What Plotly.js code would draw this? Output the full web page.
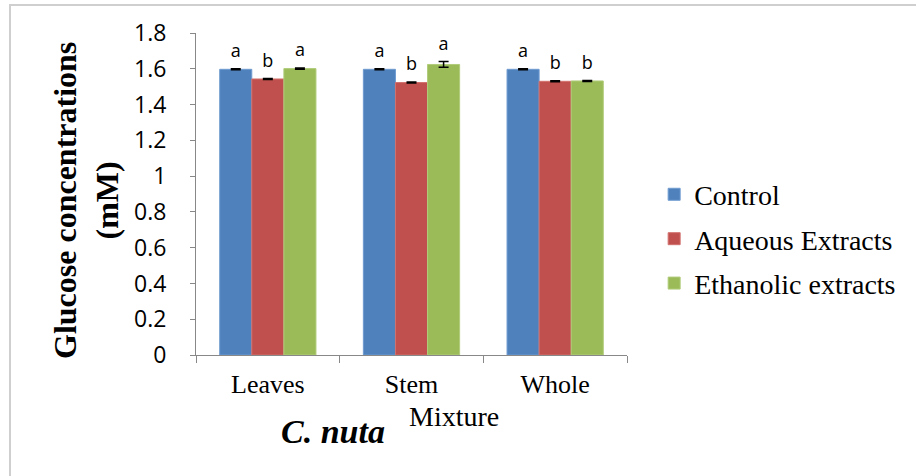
<!DOCTYPE html>
<html>
<head>
<meta charset="utf-8">
<script src="https://cdn.plot.ly/plotly-3.0.1.min.js"></script>
<style>
  html, body { margin: 0; padding: 0; background: #fff; }
  #wrap { position: relative; width: 916px; height: 476px; overflow: hidden; }
  #chart { position: absolute; left: 0; top: 0; width: 916px; height: 476px; }
  #frame { position: absolute; left: 9px; top: 4px; right: -4px; bottom: -4px;
           border-left: 2px solid #cfcfcf; border-top: 2px solid #cfcfcf; pointer-events: none; }
</style>
</head>
<body>
<div id="wrap"><div id="chart"></div><div id="frame"></div></div>
<script>
// ---- data ----
const categories = ["Leaves", "Stem", "Whole"];
const seriesNames = ["Control", "Aqueous Extracts", "Ethanolic extracts"];
const control   = [1.597, 1.597, 1.597];
const aqueous   = [1.543, 1.523, 1.530];
const ethanolic = [1.601, 1.624, 1.532];
const controlErr   = [0.003, 0.003, 0.003];
const aqueousErr   = [0.003, 0.003, 0.003];
const ethanolicErr = [0.003, 0.016, 0.003];
const controlLetters   = ["a", "a", "a"];
const aqueousLetters   = ["b", "b", "b"];
const ethanolicLetters = ["a", "a", "b"];
const yTicks = [0, 0.2, 0.4, 0.6, 0.8, 1, 1.2, 1.4, 1.6, 1.8];
const yTickLabels = ["0", "0.2", "0.4", "0.6", "0.8", "1", "1.2", "1.4", "1.6", "1.8"];
const yTitle = "Glucose concentrations<br>(mM)";

const colors = ["#4F81BD", "#C0504D", "#9BBB59"];
const edge = ["#6f9bd1", "#d2716e", "#b0cc7a"];
const values = [control, aqueous, ethanolic];
const errs = [controlErr, aqueousErr, ethanolicErr];
const letters = [controlLetters, aqueousLetters, ethanolicLetters];

const traces = [];
values.forEach((v, i) => {
  traces.push({
    type: "bar", x: categories, y: v, name: seriesNames[i],
    offsetgroup: "g" + i, legendgroup: "g" + i,
    marker: { color: colors[i], line: { color: edge[i], width: 1 } },
    error_y: { type: "data", array: errs[i], visible: true, color: "#000", thickness: 1.5, width: 5 },
    hoverinfo: "skip"
  });
});
values.forEach((v, i) => {
  traces.push({
    type: "scatter", mode: "markers+text", x: categories,
    y: v.map((val, k) => val + errs[i][k]),
    marker: { size: 10, color: "rgba(0,0,0,0)" },
    text: letters[i], textposition: "top center",
    textfont: { family: "Open Sans, sans-serif", size: 18, color: "#000" },
    offsetgroup: "g" + i, showlegend: false, hoverinfo: "skip", cliponaxis: false
  });
});

const layout = {
  width: 916, height: 476,
  margin: { l: 196, r: 289, t: 33, b: 121 },
  paper_bgcolor: "#fff", plot_bgcolor: "#fff",
  barmode: "group", bargap: 0.33, bargroupgap: 0,
  scattermode: "group", scattergap: 0.33,
  showlegend: true,
  legend: {
    x: 1.063, xanchor: "left", y: 0.36, yanchor: "middle",
    font: { family: "Liberation Serif, serif", size: 28, color: "#000" },
    tracegroupgap: 5, bgcolor: "rgba(0,0,0,0)"
  },
  xaxis: {
    type: "category", tickson: "boundaries", ticks: "outside", ticklen: 7,
    tickcolor: "#888", showline: true, linecolor: "#888", linewidth: 1,
    showgrid: false, zeroline: false, ticklabelstandoff: 6,
    tickfont: { family: "Liberation Serif, serif", size: 26, color: "#000" },
    automargin: false
  },
  yaxis: {
    range: [0, 1.8], tickvals: yTicks, ticktext: yTickLabels,
    ticks: "outside", ticklen: 5, tickcolor: "#888",
    showline: true, linecolor: "#888", linewidth: 1,
    showgrid: false, zeroline: false,
    ticklabelstandoff: 19,
    tickfont: { family: "Open Sans, sans-serif", size: 23, color: "#000" },
    automargin: false
  },
  annotations: [
    { text: yTitle, xref: "paper", yref: "paper", x: (86 - 196) / 431, y: (355 - 200) / 322,
      xanchor: "center", yanchor: "middle", textangle: -90, showarrow: false,
      font: { family: "Liberation Serif, serif", size: 32, color: "#000", weight: "bold" } },
    { text: "Mixture", xref: "paper", yref: "paper", x: (454 - 196) / 431, y: -(416 - 355) / 322,
      xanchor: "center", yanchor: "middle", showarrow: false,
      font: { family: "Liberation Serif, serif", size: 28, color: "#000" } },
    { text: "<b><i>C. nuta</i></b>", xref: "paper", yref: "paper", x: (333 - 196) / 431, y: -(431 - 355) / 322,
      xanchor: "center", yanchor: "middle", showarrow: false,
      font: { family: "Liberation Serif, serif", size: 34, color: "#000" } }
  ]
};

Plotly.newPlot("chart", traces, layout, { displayModeBar: false, staticPlot: true });
</script>
</body>
</html>
